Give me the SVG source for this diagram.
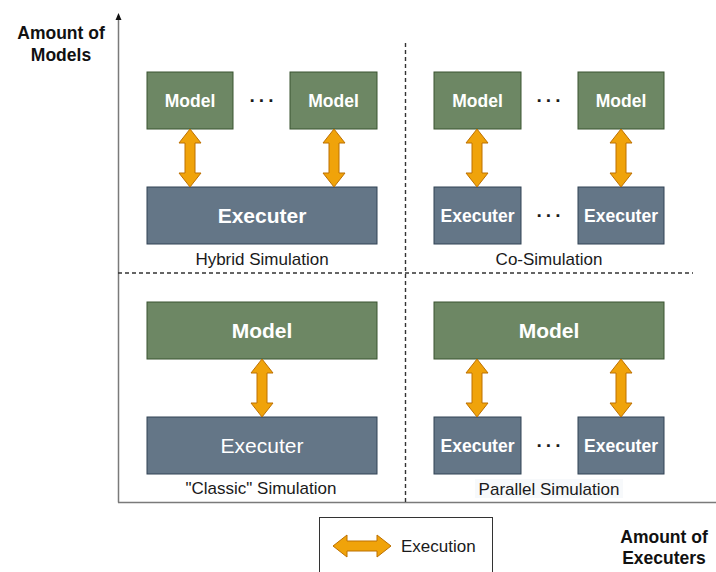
<svg xmlns="http://www.w3.org/2000/svg" xmlns:xlink="http://www.w3.org/1999/xlink" width="716" height="572" viewBox="0 0 716 572">
<style>
text{font-family:"Liberation Sans",Arial,sans-serif;}
.model{fill:#6d8764;stroke:#3a5431;stroke-width:1;}
.exec{fill:#647687;stroke:#314354;stroke-width:1;}
.wt{fill:#ffffff;text-anchor:middle;}
.b{font-weight:bold;}
.s{font-size:17.5px;}
.l{font-size:21px;}
.lbl{fill:#1a1a1a;font-size:17px;text-anchor:middle;}
.dots{fill:#1a1a1a;font-size:19px;font-weight:bold;text-anchor:middle;letter-spacing:3px;}
.arr{fill:#f0a30a;stroke:#bd7000;stroke-width:1;}
.dash{stroke:#333333;stroke-width:1.4;stroke-dasharray:4 3;fill:none;}
.axis{stroke:#7a7a7a;stroke-width:1.5;fill:none;}
.ax{fill:#111111;font-size:17.5px;font-weight:bold;text-anchor:middle;}
</style>
<defs>
<path id="va" d="M0,0 L11,14 L5,14 L5,44 L11,44 L0,58 L-11,44 L-5,44 L-5,14 L-11,14 Z"/>
</defs>
<g id="axes">
<line class="axis" x1="118.5" y1="18" x2="118.5" y2="502.5"/>
<path d="M118.5,13 L121.5,20 L115.5,20 Z" fill="#111111"/>
<line class="axis" x1="118" y1="502.5" x2="716" y2="502.5"/>
<line class="dash" x1="118" y1="273" x2="693" y2="273"/>
<line class="dash" x1="405.5" y1="43" x2="405.5" y2="502"/>
<text class="ax" x="61" y="39">Amount of</text>
<text class="ax" x="61" y="61">Models</text>
<text class="ax" x="664" y="543">Amount of</text>
<text class="ax" x="664" y="564">Executers</text>
</g>
<g id="hybrid">
<rect class="model" x="147" y="72" width="86" height="57"/>
<text class="wt b s" x="190" y="107">Model</text>
<rect class="model" x="290" y="72" width="87" height="57"/>
<text class="wt b s" x="333.5" y="107">Model</text>
<text class="dots" x="263.5" y="107">···</text>
<rect class="exec" x="147" y="187" width="230" height="57"/>
<text class="wt b l" x="262" y="223">Executer</text>
<text class="lbl" x="262" y="265">Hybrid Simulation</text>
</g>
<g id="cosim">
<rect class="model" x="434" y="72" width="87" height="57"/>
<text class="wt b s" x="477.5" y="107">Model</text>
<rect class="model" x="578" y="72" width="86" height="57"/>
<text class="wt b s" x="621" y="107">Model</text>
<text class="dots" x="550.5" y="107">···</text>
<rect class="exec" x="434" y="187" width="87" height="57"/>
<text class="wt b s" x="477.5" y="222">Executer</text>
<rect class="exec" x="578" y="187" width="86" height="57"/>
<text class="wt b s" x="621" y="222">Executer</text>
<text class="dots" x="550.5" y="222">···</text>
<text class="lbl" x="549" y="265">Co-Simulation</text>
</g>
<g id="classic">
<rect class="model" x="147" y="302" width="230" height="57"/>
<text class="wt b l" x="262" y="338">Model</text>
<rect class="exec" x="147" y="417" width="230" height="57"/>
<text class="wt l" x="262" y="453">Executer</text>
<text class="lbl" x="261" y="494">"Classic" Simulation</text>
</g>
<g id="parallel">
<rect class="model" x="434" y="302" width="230" height="57"/>
<text class="wt b l" x="549" y="338">Model</text>
<rect class="exec" x="434" y="417" width="87" height="57"/>
<text class="wt b s" x="477.5" y="452">Executer</text>
<rect class="exec" x="578" y="417" width="86" height="57"/>
<text class="wt b s" x="621" y="452">Executer</text>
<text class="dots" x="550.5" y="452">···</text>
<rect x="475" y="479" width="148" height="19" fill="#f7f9fb"/>
<text class="lbl" x="549" y="495">Parallel Simulation</text>
</g>
<g id="connectors">
<use href="#va" xlink:href="#va" class="arr" x="190" y="129"/>
<use href="#va" xlink:href="#va" class="arr" x="334" y="129"/>
<use href="#va" xlink:href="#va" class="arr" x="477" y="129"/>
<use href="#va" xlink:href="#va" class="arr" x="621" y="129"/>
<use href="#va" xlink:href="#va" class="arr" x="262" y="359"/>
<use href="#va" xlink:href="#va" class="arr" x="477" y="359"/>
<use href="#va" xlink:href="#va" class="arr" x="621" y="359"/>
</g>
<g id="legend">
<rect x="319.5" y="517.5" width="173" height="60" fill="#ffffff" stroke="#333333" stroke-width="1"/>
<use href="#va" xlink:href="#va" class="arr" transform="translate(391,546) rotate(90)"/>
<text x="401" y="552" font-size="17px" fill="#1a1a1a">Execution</text>
</g>
</svg>
